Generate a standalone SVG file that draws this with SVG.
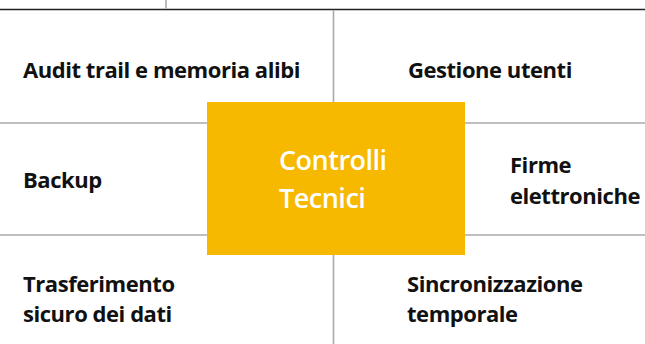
<svg xmlns="http://www.w3.org/2000/svg" width="645" height="344" viewBox="0 0 645 344">
<style>
.lbl{font-family:"Open Sans","Liberation Sans",sans-serif;font-weight:700;font-size:22px;letter-spacing:-0.45px;fill:#111}
.ctr{font-family:"Open Sans","Liberation Sans",sans-serif;font-weight:600;font-size:27px;letter-spacing:-0.5px;fill:#fff}
.grid{stroke:#aaa;stroke-width:1.6;fill:none}
</style>
<rect width="645" height="344" fill="#fff"/>
<g id="connectors">
<line x1="0" y1="9.5" x2="645" y2="9.5" stroke="#222" stroke-width="1.5"/>
<line x1="166" y1="0" x2="166" y2="9" stroke="#bbb" stroke-width="2"/>
<line class="grid" x1="333.5" y1="10" x2="333.5" y2="102" stroke="#bbb"/>
<line class="grid" x1="333.5" y1="255" x2="333.5" y2="344" stroke="#bbb"/>
<line class="grid" x1="0" y1="123" x2="207" y2="123"/>
<line class="grid" x1="465" y1="123" x2="645" y2="123"/>
<line class="grid" x1="0" y1="235" x2="207" y2="235"/>
<line class="grid" x1="465" y1="235" x2="645" y2="235"/>
</g>
<g id="center">
<rect x="207" y="102" width="258" height="153" fill="#F7B800"/>
<text class="ctr" x="279" y="170">Controlli</text>
<text class="ctr" x="279" y="208">Tecnici</text>
</g>
<g id="audit"><text class="lbl" x="23" y="78">Audit trail e memoria alibi</text></g>
<g id="utenti"><text class="lbl" x="408" y="78">Gestione utenti</text></g>
<g id="backup"><text class="lbl" x="23" y="188">Backup</text></g>
<g id="firme"><text class="lbl" x="510" y="172.5">Firme</text><text class="lbl" x="510" y="203.5">elettroniche</text></g>
<g id="trasferimento"><text class="lbl" x="23" y="292">Trasferimento</text><text class="lbl" x="23" y="321.5">sicuro dei dati</text></g>
<g id="sincronizzazione"><text class="lbl" x="407" y="292">Sincronizzazione</text><text class="lbl" x="407" y="321.5">temporale</text></g>
</svg>
